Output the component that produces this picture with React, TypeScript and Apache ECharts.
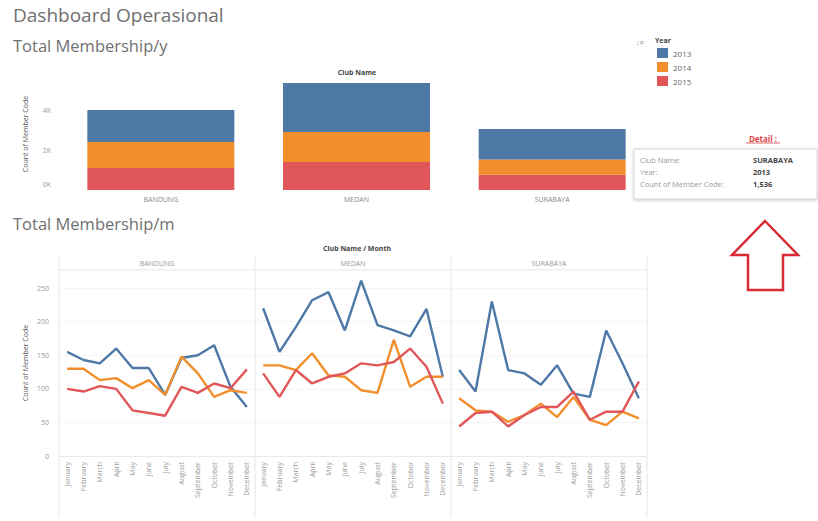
import React, { useEffect, useRef } from "react";
import * as echarts from "echarts";

const clubs = ["BANDUNG", "MEDAN", "SURABAYA"];
const years = ["2013", "2014", "2015"];
const months = ["January", "February", "March", "April", "May", "June", "July", "August", "September", "October", "November", "December"];

// yearly totals per club (stacked bars)
const total2013 = [1600, 2450, 1536];
const total2014 = [1300, 1500, 760];
const total2015 = [1100, 1400, 760];
const barTicks = [0, 2000, 4000];

// monthly counts per club and year
const bandung2013 = [155, 143, 138, 160, 131, 131, 91, 146, 150, 165, 103, 73];
const bandung2014 = [130, 130, 113, 116, 101, 113, 91, 148, 123, 88, 98, 94];
const bandung2015 = [100, 96, 104, 100, 68, 64, 60, 103, 94, 108, 101, 129];
const medan2013 = [220, 155, 192, 232, 244, 187, 261, 195, 187, 178, 219, 118];
const medan2014 = [135, 135, 128, 153, 120, 118, 98, 94, 173, 103, 118, 118];
const medan2015 = [123, 88, 128, 108, 118, 123, 138, 135, 140, 160, 133, 78];
const surabaya2013 = [128, 96, 230, 128, 123, 106, 135, 93, 88, 187, 138, 86];
const surabaya2014 = [86, 68, 66, 51, 61, 78, 58, 88, 54, 46, 66, 56];
const surabaya2015 = [44, 64, 66, 44, 61, 73, 73, 96, 54, 66, 66, 111];
const lineTicks = [0, 50, 100, 150, 200, 250];

const COLORS: Record<string, string> = { "2013": "#4e79a7", "2014": "#f28e2b", "2015": "#e15759" };
const FONT = "'Open Sans', 'Noto Sans', sans-serif";

export default function App() {
  const ref = useRef<HTMLDivElement>(null);
  useEffect(() => {
    if (!ref.current) return;
    const chart = echarts.init(ref.current, undefined, { renderer: "svg" });
    const monthly: Record<string, number[][]> = {
      "2013": [bandung2013, medan2013, surabaya2013],
      "2014": [bandung2014, medan2014, surabaya2014],
      "2015": [bandung2015, medan2015, surabaya2015],
    };
    const totals: Record<string, number[]> = { "2013": total2013, "2014": total2014, "2015": total2015 };

    const panelLeft = 59;
    const panelW = 196;
    const lineTop = 270;
    const lineH = 186;

    const grids: any[] = [{ left: 63, top: 80, width: 587, height: 110 }];
    const xAxes: any[] = [
      {
        type: "category", gridIndex: 0, data: clubs,
        axisLine: { show: false }, axisTick: { show: false },
        axisLabel: { fontSize: 7, color: "#888", margin: 6, fontFamily: FONT },
      },
    ];
    const yAxes: any[] = [
      {
        type: "value", gridIndex: 0, min: 0, max: 5500, interval: 2000,
        axisLine: { show: false }, axisTick: { show: false },
        splitLine: { show: false },
        axisLabel: {
          fontSize: 7, color: "#999", margin: 12, fontFamily: FONT, showMaxLabel: false,
          rich: { z: { fontSize: 7, color: "#999", padding: [0, 0, 12, 0], fontFamily: FONT } },
          formatter: (v: number) => (v === 0 ? "{z|0K}" : barTicks.includes(v) ? v / 1000 + "K" : ""),
        },
      },
    ];
    for (let k = 0; k < 3; k++) {
      grids.push({ left: panelLeft + k * panelW, top: lineTop, width: panelW, height: lineH });
      xAxes.push({
        type: "category", gridIndex: k + 1, data: months, boundaryGap: true,
        axisLine: { show: true, lineStyle: { color: "#e6e6e6", type: "dotted" } }, axisTick: { show: false },
        axisLabel: { rotate: 90, interval: 0, fontSize: 7, color: "#999", margin: 6, fontFamily: FONT },
      });
      yAxes.push({
        type: "value", gridIndex: k + 1, min: 0, max: 277, interval: 50,
        axisLine: { show: false }, axisTick: { show: false },
        splitLine: { show: true, lineStyle: { color: "#f5f5f5" } },
        axisLabel: {
          show: k === 0, fontSize: 7, color: "#999", margin: 10, fontFamily: FONT, showMaxLabel: false,
          formatter: (v: number) => (lineTicks.includes(v) ? String(v) : ""),
        },
      });
    }

    const series: any[] = [];
    ["2015", "2014", "2013"].forEach((y) => {
      series.push({
        type: "bar", name: y, stack: "total", xAxisIndex: 0, yAxisIndex: 0,
        data: totals[y], barWidth: 147, itemStyle: { color: COLORS[y] },
      });
    });
    ["2013", "2014", "2015"].forEach((y) => {
      for (let k = 0; k < 3; k++) {
        series.push({
          type: "line", name: y, xAxisIndex: k + 1, yAxisIndex: k + 1,
          data: monthly[y][k], showSymbol: false, symbol: "none",
          lineStyle: { color: COLORS[y], width: 2.4 }, itemStyle: { color: COLORS[y] },
        });
      }
    });

    const graphics: any[] = [
      { type: "text", left: 13, top: 5, style: { text: "Dashboard Operasional", fontSize: 19, fill: "#707070", fontFamily: FONT } },
      { type: "text", left: 13, top: 37, style: { text: "Total Membership/y", fontSize: 16.5, fill: "#707070", fontFamily: FONT } },
      { type: "text", left: 13, top: 215, style: { text: "Total Membership/m", fontSize: 16.5, fill: "#707070", fontFamily: FONT } },
      { type: "text", x: 357, y: 72, style: { text: "Club Name", fontSize: 7, fontWeight: "bold", fill: "#444", align: "center", verticalAlign: "middle", fontFamily: FONT } },
      { type: "text", x: 357, y: 248, style: { text: "Club Name / Month", fontSize: 7, fontWeight: "bold", fill: "#444", align: "center", verticalAlign: "middle", fontFamily: FONT } },
      { type: "text", x: 25, y: 134, rotation: Math.PI / 2, style: { text: "Count of Member Code", fontSize: 7, fill: "#555", align: "center", verticalAlign: "middle", fontFamily: FONT } },
      { type: "text", x: 25, y: 363, rotation: Math.PI / 2, style: { text: "Count of Member Code", fontSize: 7, fill: "#555", align: "center", verticalAlign: "middle", fontFamily: FONT } },
      { type: "line", shape: { x1: panelLeft, y1: 270, x2: panelLeft + 3 * panelW, y2: 270 }, style: { stroke: "#e2e2e2", lineWidth: 1 } },
    ];
    for (let k = 0; k <= 3; k++) {
      graphics.push({ type: "line", shape: { x1: panelLeft + k * panelW, y1: 255, x2: panelLeft + k * panelW, y2: 518 }, style: { stroke: "#e6e6e6", lineWidth: 1 } });
    }
    clubs.forEach((c, k) => {
      graphics.push({ type: "text", x: panelLeft + k * panelW + panelW / 2, y: 263, style: { text: c, fontSize: 7, fill: "#999", align: "center", verticalAlign: "middle", fontFamily: FONT } });
    });

    // legend header
    graphics.push({ type: "text", x: 636, y: 42, style: { text: "↓≡", fontSize: 7, fill: "#888", verticalAlign: "middle", fontFamily: FONT } });
    graphics.push({ type: "text", x: 655, y: 40, style: { text: "Year", fontSize: 7, fontWeight: "bold", fill: "#444", verticalAlign: "middle", fontFamily: FONT } });

    // detail box
    const selClub = 2;
    const selYear = "2013";
    graphics.push({ type: "text", x: 763, y: 138, style: { text: "Detail :", fontSize: 8, fontWeight: "bold", fill: "#e0434b", align: "center", verticalAlign: "middle", fontFamily: FONT } });
    graphics.push({ type: "line", shape: { x1: 746, y1: 143, x2: 780, y2: 143 }, style: { stroke: "#e0434b", lineWidth: 0.8 } });
    graphics.push({ type: "rect", shape: { x: 634, y: 149, width: 183, height: 50 }, style: { fill: "#fff", stroke: "#d6d6d6", lineWidth: 1, shadowBlur: 3, shadowColor: "rgba(0,0,0,0.2)", shadowOffsetY: 1 } });
    const rows = [
      ["Club Name:", clubs[selClub]],
      ["Year:", selYear],
      ["Count of Member Code:", totals[selYear][selClub].toLocaleString("en-US")],
    ];
    rows.forEach((r, i) => {
      graphics.push({ type: "text", x: 640, y: 160 + i * 12, style: { text: r[0], fontSize: 7.5, fill: "#999", verticalAlign: "middle", fontFamily: FONT } });
      graphics.push({ type: "text", x: 753, y: 160 + i * 12, style: { text: r[1], fontSize: 7.5, fontWeight: "bold", fill: "#444", verticalAlign: "middle", fontFamily: FONT } });
    });

    // red arrow
    graphics.push({
      type: "polygon",
      shape: { points: [[765, 221], [798, 255], [783, 255], [783, 290], [748, 290], [748, 255], [732, 255]] },
      style: { fill: "none", stroke: "#d92b33", lineWidth: 2.5, lineJoin: "miter" },
    });

    chart.setOption({
      animation: false,
      backgroundColor: "#fff",
      textStyle: { fontFamily: FONT },
      grid: grids,
      xAxis: xAxes,
      yAxis: yAxes,
      legend: {
        data: years, orient: "vertical", left: 657, top: 48, padding: 0, itemWidth: 11, itemHeight: 10, itemGap: 4,
        icon: "rect", textStyle: { fontSize: 8, color: "#666", fontFamily: FONT }, selectedMode: false,
      },
      series,
      graphic: graphics,
    });
    return () => chart.dispose();
  }, []);
  return <div ref={ref} style={{ position: "fixed", left: 0, top: 0, width: 818, height: 521, background: "#fff" }} />;
}
